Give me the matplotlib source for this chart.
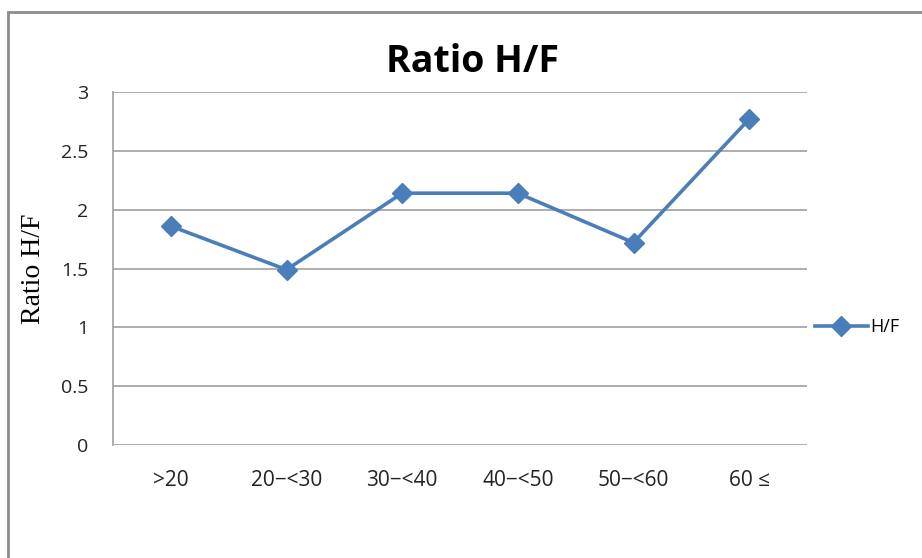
import matplotlib.pyplot as plt
from matplotlib.patches import Rectangle

# data
categories = [">20", "20\u2212<30", "30\u2212<40", "40\u2212<50", "50\u2212<60", "60 \u2264"]
ratio_hf = [1.86, 1.49, 2.14, 2.14, 1.72, 2.77]
y_ticks = [0, 0.5, 1, 1.5, 2, 2.5, 3]
y_tick_labels = ["0", "0.5", "1", "1.5", "2", "2.5", "3"]

blue = "#4a7ebb"
grid_gray = "#a0a0a0"

fig = plt.figure(figsize=(9.22, 5.58), dpi=100)
fig.patch.set_facecolor("white")

# outer chart frame (Excel style)
frame = Rectangle((8 / 922, -0.2), 2.0, 1.2 - 12 / 558, transform=fig.transFigure,
                  fill=False, edgecolor="#8c8c8c", linewidth=2.0)
fig.patches.append(frame)

ax = fig.add_axes([113 / 922, 1 - 445 / 558, 694 / 922, 353 / 558])

x = list(range(len(categories)))
ax.plot(x, ratio_hf, color=blue, linewidth=2.6, marker="D", markersize=10,
        markerfacecolor=blue, markeredgecolor=blue, label="H/F", zorder=3)

ax.set_xlim(-0.5, len(categories) - 0.5)
ax.set_ylim(0, 3)
ax.set_yticks(y_ticks)
ax.set_yticklabels(y_tick_labels, fontsize=14, family="Open Sans", color="#222222")
ax.set_xticks(x)
ax.set_xticklabels(categories, fontsize=15, family="Open Sans", color="#222222")
ax.tick_params(axis="both", length=0)
ax.tick_params(axis="y", pad=18)
ax.tick_params(axis="x", pad=18)

ax.yaxis.grid(True, color=grid_gray, linewidth=1.2)
ax.set_axisbelow(True)
for side in ["top", "right", "bottom"]:
    ax.spines[side].set_visible(False)
ax.spines["left"].set_color(grid_gray)
ax.spines["left"].set_linewidth(1.2)

ax.set_ylabel("Ratio H/F", fontsize=20, family="Liberation Serif")
ax.yaxis.set_label_coords(-0.0965, 0.5)

fig.text((383 + 562) / 2 / 922, 1 - 62 / 558, "Ratio H/F", ha="center", va="center",
         fontsize=27, fontweight="bold", family="Open Sans")

leg = fig.legend(loc="center left", bbox_to_anchor=(808 / 922, 1 - 327 / 558),
                 frameon=False, handlelength=2.9, handletextpad=0.15,
                 borderaxespad=0, prop={"family": "Open Sans", "size": 13})

fig.savefig("out.png", dpi=100, facecolor="white")
